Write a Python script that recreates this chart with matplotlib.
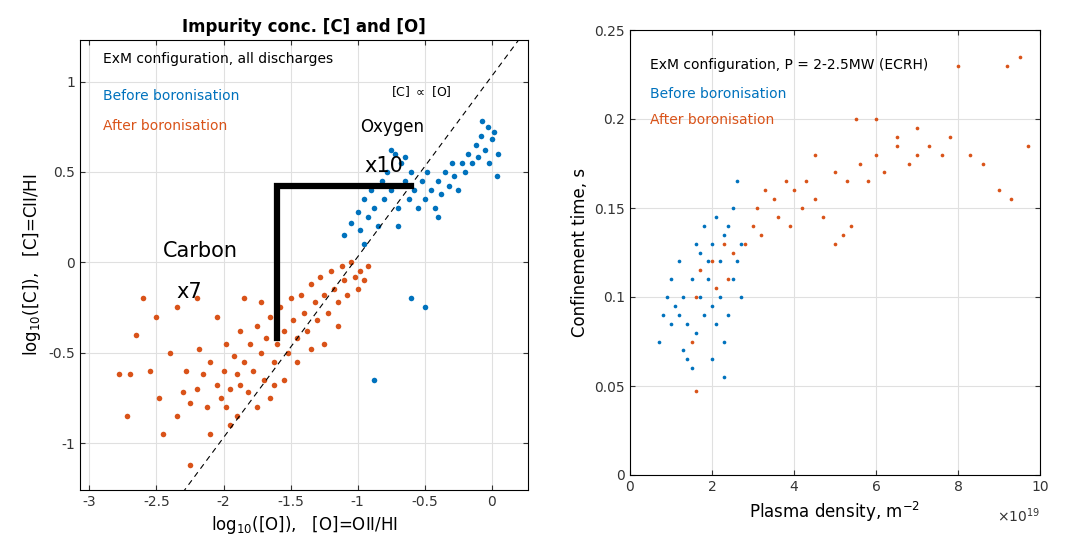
import numpy as np
import matplotlib
matplotlib.use('Agg')
import matplotlib.pyplot as plt

BLUE = '#0072BD'
ORANGE = '#D95319'

# ---------------------------------------------------------------------------
# Data
# ---------------------------------------------------------------------------
o_after = [(-2.30,-0.72),(-2.25,-0.78),(-2.20,-0.70),(-2.15,-0.62),(-2.12,-0.80),(-2.10,-0.55),(-2.05,-0.68),
           (-2.02,-0.75),(-2.00,-0.60),(-1.98,-0.45),(-1.95,-0.70),(-1.92,-0.52),(-1.90,-0.62),(-1.88,-0.38),
           (-1.85,-0.55),(-1.82,-0.72),(-1.80,-0.45),(-1.78,-0.60),(-1.75,-0.35),(-1.72,-0.50),(-1.70,-0.65),
           (-1.68,-0.42),(-1.65,-0.30),(-1.62,-0.55),(-1.60,-0.45),(-1.58,-0.25),(-1.55,-0.38),(-1.52,-0.50),
           (-1.50,-0.20),(-1.48,-0.32),(-1.45,-0.42),(-1.42,-0.18),(-1.40,-0.28),(-1.38,-0.38),(-1.35,-0.12),
           (-1.32,-0.22),(-1.30,-0.32),(-1.28,-0.08),(-1.25,-0.18),(-1.22,-0.28),(-1.20,-0.05),(-1.18,-0.15),
           (-1.15,-0.22),(-1.12,-0.02),(-1.10,-0.10),(-1.08,-0.18),(-1.05,0.00),(-1.02,-0.08),(-1.00,-0.15),
           (-0.98,-0.05),(-0.95,-0.10),(-0.92,-0.02),(-2.40,-0.50),(-2.50,-0.30),(-2.55,-0.60),(-2.65,-0.40),
           (-2.70,-0.62),(-2.72,-0.85),(-2.78,-0.62),(-2.35,-0.85),(-2.45,-0.95),(-2.25,-1.12),(-2.10,-0.95),
           (-1.90,-0.85),(-2.35,-0.25),(-2.20,-0.20),(-2.05,-0.30),(-1.75,-0.80),(-1.65,-0.75),(-1.55,-0.65),
           (-1.45,-0.55),(-1.95,-0.90),(-1.25,-0.45),(-1.85,-0.20),(-2.60,-0.20),(-2.48,-0.75),(-2.18,-0.48),
           (-1.98,-0.80),(-1.72,-0.22),(-1.35,-0.48),(-2.28,-0.60),(-1.88,-0.68),(-1.62,-0.68),(-1.15,-0.35)]
o_before = [(-1.10,0.15),(-1.05,0.22),(-1.00,0.28),(-0.98,0.18),(-0.95,0.35),(-0.92,0.25),(-0.90,0.40),
            (-0.88,0.30),(-0.85,0.20),(-0.82,0.45),(-0.80,0.35),(-0.78,0.50),(-0.75,0.40),(-0.72,0.60),
            (-0.70,0.30),(-0.68,0.55),(-0.65,0.45),(-0.62,0.35),(-0.60,0.50),(-0.58,0.40),(-0.55,0.30),
            (-0.52,0.45),(-0.50,0.35),(-0.48,0.50),(-0.45,0.40),(-0.42,0.30),(-0.40,0.45),(-0.38,0.38),
            (-0.35,0.50),(-0.32,0.42),(-0.30,0.55),(-0.28,0.48),(-0.25,0.40),(-0.22,0.55),(-0.20,0.50),
            (-0.18,0.60),(-0.15,0.55),(-0.12,0.65),(-0.10,0.58),(-0.08,0.70),(-0.05,0.62),(-0.03,0.75),
            (0.00,0.68),(0.02,0.72),(0.05,0.60),(-0.02,0.55),(0.04,0.48),(-0.07,0.78),(-0.60,-0.20),
            (-0.50,-0.25),(-0.88,-0.65),(-0.95,0.10),(-0.70,0.20),(-0.40,0.25),(-0.75,0.62),(-0.65,0.58)]

# plasma density in units of 1e19 m^-2, confinement time in s
d_before = [(0.7,0.075),(0.8,0.09),(0.9,0.10),(1.0,0.11),(1.1,0.095),(1.2,0.12),(1.3,0.07),(1.3,0.10),
            (1.4,0.065),(1.4,0.085),(1.5,0.06),(1.5,0.11),(1.6,0.08),(1.6,0.13),(1.7,0.10),(1.7,0.125),
            (1.8,0.09),(1.8,0.14),(1.9,0.11),(1.9,0.12),(2.0,0.13),(2.0,0.095),(2.1,0.085),(2.1,0.145),
            (2.2,0.10),(2.2,0.12),(2.3,0.075),(2.3,0.135),(2.4,0.14),(2.4,0.09),(2.5,0.11),(2.5,0.15),
            (2.6,0.165),(2.6,0.12),(2.7,0.10),(2.7,0.13),(2.0,0.065),(2.3,0.055),(1.2,0.09),(1.0,0.085)]
d_after = [(1.5,0.075),(1.6,0.10),(1.7,0.115),(2.0,0.12),(2.1,0.105),(2.3,0.13),(2.5,0.125),(2.8,0.13),
           (3.0,0.14),(3.1,0.15),(3.2,0.135),(3.3,0.16),(3.5,0.155),(3.6,0.145),(3.8,0.165),(3.9,0.14),
           (4.0,0.16),(4.2,0.15),(4.3,0.165),(4.5,0.155),(4.7,0.145),(5.0,0.13),(5.2,0.135),(5.4,0.14),
           (5.0,0.17),(5.3,0.165),(5.6,0.175),(5.8,0.165),(6.0,0.18),(6.2,0.17),(6.5,0.185),(6.8,0.175),
           (7.0,0.18),(7.3,0.185),(7.6,0.18),(7.8,0.19),(8.0,0.23),(8.3,0.18),(8.6,0.175),(9.0,0.16),
           (9.2,0.23),(9.5,0.235),(9.7,0.185),(9.3,0.155),(6.0,0.20),(6.5,0.19),(7.0,0.195),(1.6,0.047),
           (4.5,0.18),(5.5,0.20),(2.4,0.11)]

# ---------------------------------------------------------------------------
fig = plt.figure(figsize=(10.74, 5.56), dpi=100)
ax1 = fig.add_axes([80/1074, 66/556, 448/1074, 450/556])
ax2 = fig.add_axes([630/1074, 81/556, 410/1074, 445/556])

for ax in (ax1, ax2):
    ax.grid(True, color='#e0e0e0', linewidth=0.8)
    ax.set_axisbelow(True)
    ax.tick_params(direction='in', labelsize=10, top=True, right=True, colors='#333333')

# left panel
x, y = zip(*o_after)
ax1.scatter(x, y, s=16, color=ORANGE, linewidths=0)
x, y = zip(*o_before)
ax1.scatter(x, y, s=16, color=BLUE, linewidths=0)
lx = np.array([-3.1, 0.2])
ax1.plot(lx, lx + 1.03, 'k--', linewidth=0.8, dashes=(5, 4))
ax1.plot([-1.6, -1.6, -0.6], [-0.42, 0.42, 0.42], color='black', linewidth=4.5, solid_joinstyle='miter')
ax1.set_xlim(-3.07, 0.27)
ax1.set_ylim(-1.26, 1.23)
ax1.set_xticks([-3, -2.5, -2, -1.5, -1, -0.5, 0])
ax1.set_xticklabels(['-3', '-2.5', '-2', '-1.5', '-1', '-0.5', '0'])
ax1.set_yticks([-1, -0.5, 0, 0.5, 1])
ax1.set_yticklabels(['-1', '-0.5', '0', '0.5', '1'])
ax1.set_xlabel(r'log$_{10}$([O]),   [O]=OII/HI', fontsize=12)
ax1.set_ylabel(r'log$_{10}$([C]),   [C]=CII/HI', fontsize=12)
ax1.set_title('Impurity conc. [C] and [O]', fontsize=12, fontweight='bold')
ax1.text(-2.9, 1.1, 'ExM configuration, all discharges', fontsize=10)
ax1.text(-2.9, 0.9, 'Before boronisation', fontsize=10, color=BLUE)
ax1.text(-2.9, 0.73, 'After boronisation', fontsize=10, color=ORANGE)
ax1.text(-0.75, 0.92, r'[C] $\propto$ [O]', fontsize=9)
ax1.text(-2.45, 0.03, 'Carbon', fontsize=15)
ax1.text(-2.35, -0.2, 'x7', fontsize=15)
ax1.text(-0.98, 0.72, 'Oxygen', fontsize=12)
ax1.text(-0.95, 0.5, 'x10', fontsize=15)

# right panel
x, y = zip(*d_after)
ax2.scatter(x, y, s=7, color=ORANGE, linewidths=0)
x, y = zip(*d_before)
ax2.scatter(x, y, s=7, color=BLUE, linewidths=0)
ax2.set_xlim(0, 10)
ax2.set_ylim(0, 0.25)
ax2.set_xticks([0, 2, 4, 6, 8, 10])
ax2.set_yticks([0, 0.05, 0.1, 0.15, 0.2, 0.25])
ax2.set_yticklabels(['0', '0.05', '0.1', '0.15', '0.2', '0.25'])
ax2.set_xlabel(r'Plasma density, m$^{-2}$', fontsize=12)
ax2.set_ylabel('Confinement time, s', fontsize=12)
ax2.text(1.0, -0.105, r'$\times10^{19}$', transform=ax2.transAxes, ha='right',
         fontsize=10, color='#333333')
ax2.text(0.5, 0.228, 'ExM configuration, P = 2-2.5MW (ECRH)', fontsize=10)
ax2.text(0.5, 0.212, 'Before boronisation', fontsize=10, color=BLUE)
ax2.text(0.5, 0.197, 'After boronisation', fontsize=10, color=ORANGE)

fig.savefig('out.png', dpi=100)
